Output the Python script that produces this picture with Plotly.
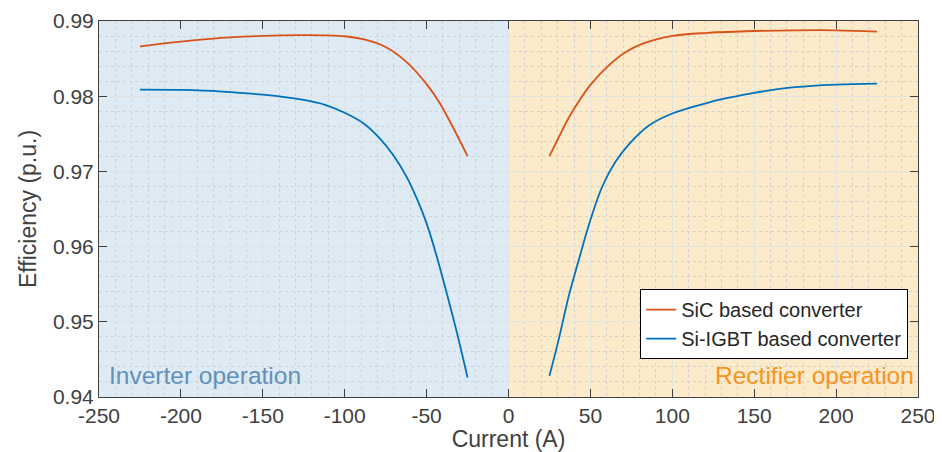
import plotly.graph_objects as go

# ---- data ----
sic_inv_x = [-225, -200, -175, -150, -125, -100, -87.5, -75, -62.5, -50, -42, -34, -25]
sic_inv_y = [0.98664, 0.98726, 0.98775, 0.98803, 0.98812, 0.98797, 0.98752, 0.98655,
             0.98460, 0.98160, 0.97910, 0.97590, 0.97203]

igbt_inv_x = [-225, -200, -175, -150, -125, -112, -100, -88.6, -78.5, -70.3, -62.2, -56,
              -50, -43.8, -37.7, -31.4, -25]
igbt_inv_y = [0.98088, 0.98083, 0.98062, 0.98020, 0.97950, 0.97885, 0.97780, 0.97640,
              0.97437, 0.97216, 0.96928, 0.96640, 0.96309, 0.95870, 0.95379, 0.94848, 0.94259]

sic_rec_x = [25, 30.6, 36.7, 40.8, 50, 61.2, 71.4, 81.6, 100, 122, 150, 175, 200, 225]
sic_rec_y = [0.97203, 0.97450, 0.97710, 0.97860, 0.98150, 0.98411, 0.98585, 0.98695,
             0.98801, 0.98843, 0.98867, 0.98876, 0.98876, 0.98858]

igbt_rec_x = [25, 30.6, 36.7, 42.9, 50, 57.2, 65.3, 73.5, 85.7, 100, 122, 134.7, 150,
              175, 200, 225]
igbt_rec_y = [0.94281, 0.94760, 0.95335, 0.95822, 0.96353, 0.96796, 0.97128, 0.97360,
              0.97610, 0.97770, 0.97915, 0.97980, 0.98045, 0.98120, 0.98154, 0.98168]

series_names = ["SiC based converter", "Si-IGBT based converter"]
region_labels = ["Inverter operation", "Rectifier operation"]
region_bounds = [(-250, 0), (0, 250)]
x_ticks = [-250, -200, -150, -100, -50, 0, 50, 100, 150, 200, 250]
y_ticks = [0.94, 0.95, 0.96, 0.97, 0.98, 0.99]
x_title = "Current (A)"
y_title = "Efficiency (p.u.)"

C_SIC = "#D95319"
C_IGBT = "#0072BD"
FONT = "Liberation Sans, Arial, sans-serif"
TXT = "#404040"
LINE = dict(width=1.8, shape="spline", smoothing=1.0)

fig = go.Figure()

fig.add_trace(go.Scatter(x=sic_inv_x, y=sic_inv_y, mode="lines", name=series_names[0],
                         line=dict(color=C_SIC, **LINE), legendgroup="sic"))
fig.add_trace(go.Scatter(x=sic_rec_x, y=sic_rec_y, mode="lines", name=series_names[0],
                         line=dict(color=C_SIC, **LINE), legendgroup="sic", showlegend=False))
fig.add_trace(go.Scatter(x=igbt_inv_x, y=igbt_inv_y, mode="lines", name=series_names[1],
                         line=dict(color=C_IGBT, **LINE), legendgroup="igbt"))
fig.add_trace(go.Scatter(x=igbt_rec_x, y=igbt_rec_y, mode="lines", name=series_names[1],
                         line=dict(color=C_IGBT, **LINE), legendgroup="igbt", showlegend=False))

# region backgrounds
region_fill = ["#DEEAF4", "#FCEBCB"]
for (x0, x1), col in zip(region_bounds, region_fill):
    fig.add_shape(type="rect", xref="x", yref="paper", x0=x0, x1=x1, y0=0, y1=1,
                  fillcolor=col, line=dict(width=0), layer="below")

# region labels
fig.add_annotation(x=region_bounds[0][0], y=0.0, xref="x", yref="paper",
                   text=region_labels[0], showarrow=False, xanchor="left", yanchor="bottom",
                   xshift=8, yshift=6, font=dict(family=FONT, size=24.5, color="#6191BA"))
fig.add_annotation(x=region_bounds[1][1], y=0.0, xref="x", yref="paper",
                   text=region_labels[1], showarrow=False, xanchor="right", yanchor="bottom",
                   xshift=-2, yshift=6, font=dict(family=FONT, size=24.5, color="#F7931E"))

# y-axis title (placed as annotation for exact position)
fig.add_annotation(x=0, y=0.5, xref="paper", yref="paper", text=y_title, textangle=-90,
                   showarrow=False, xanchor="center", yanchor="middle", xshift=-71,
                   font=dict(family=FONT, size=23, color=TXT))

axis_common = dict(
    showline=True, linecolor="#404040", linewidth=1, mirror="ticks",
    ticks="inside", ticklen=8, tickcolor="#404040", tickwidth=1,
    showgrid=True, gridcolor="#E2E2E2", gridwidth=1, zeroline=False,
    tickfont=dict(family=FONT, size=21, color=TXT), automargin=False,
)

fig.update_xaxes(range=[-250, 250], tickvals=x_ticks, ticktext=[str(v) for v in x_ticks],
                 title=dict(text=x_title, font=dict(family=FONT, size=23, color=TXT),
                            standoff=0),
                 minor=dict(dtick=10, showgrid=True, griddash="dot", gridcolor="#D2D2D2",
                            gridwidth=1, ticks=""),
                 **axis_common)
fig.update_yaxes(range=[0.94, 0.99], tickvals=y_ticks, ticktext=[f"{v:.2f}" for v in y_ticks],
                 minor=dict(dtick=0.002, showgrid=True, griddash="dot", gridcolor="#D2D2D2",
                            gridwidth=1, ticks=""),
                 **axis_common)

# the page body adds an 8px margin, so the figure is sized and offset to match
fig.update_layout(
    width=934, height=444,
    margin=dict(l=91, r=24, t=13, b=55),
    paper_bgcolor="white", plot_bgcolor="white",
    showlegend=True,
    legend=dict(x=0.988, y=0.287, xanchor="right", yanchor="top",
                bgcolor="white", bordercolor="#000000", borderwidth=1,
                font=dict(family=FONT, size=20, color="#262626"),
                itemwidth=30, tracegroupgap=0),
)

fig.write_html("out.html")
